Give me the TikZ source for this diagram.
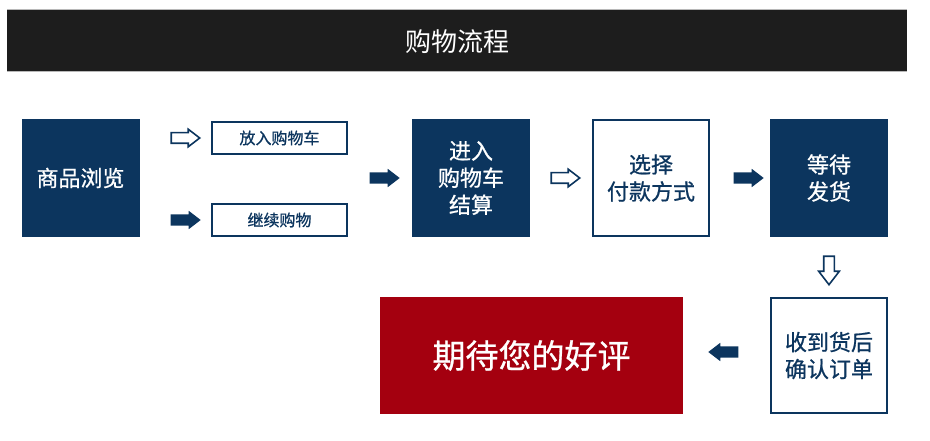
\documentclass[tikz,border=0pt]{standalone}
\usepackage{fontspec}
\setmainfont{Noto Sans CJK SC}
\newfontfamily\medfont[FakeBold=0.8]{Noto Sans CJK SC}
\usetikzlibrary{shapes.arrows}
\definecolor{navy}{HTML}{0C355E}
\definecolor{hdr}{HTML}{1D1D1D}
\definecolor{hdrline}{HTML}{B8B8B8}
\definecolor{wine}{HTML}{A4000F}
\begin{document}
\begin{tikzpicture}[x=1pt,y=-1pt,
  darkbox/.style={fill=navy, draw=none, text=white, inner sep=0pt, align=center,
    minimum width=118pt, minimum height=118pt, font=\medfont\fontsize{22}{27}\selectfont},
  linebox/.style={draw=navy, line width=1.8pt, fill=white, text=navy, inner sep=0pt, align=center,
    minimum width=116pt, minimum height=116pt, font=\medfont\fontsize{22}{27}\selectfont},
  smallbox/.style={draw=navy, line width=1.6pt, fill=white, text=navy, inner sep=0pt,
    minimum width=135.5pt, minimum height=32.5pt, font=\medfont\fontsize{16}{20}\selectfont},
  blockarrow/.style={shape=single arrow, inner sep=0pt, text height=5.5pt, text depth=5.5pt,
    minimum height=30pt, single arrow head extend=3.5pt, single arrow tip angle=75},
  solidarrow/.style={blockarrow, fill=navy, draw=none},
  hollowarrow/.style={blockarrow, draw=navy, line width=1.6pt, fill=white, minimum height=28.5pt,
    text height=4.5pt, text depth=4.5pt}]
\useasboundingbox (0,0) rectangle (930,441);
% header band
\fill[hdr] (7,9) rectangle (907,72);
\draw[hdrline, line width=1pt] (7,9.5) -- (907,9.5);
\draw[hdrline, line width=1pt] (7,71.5) -- (907,71.5);
\node[text=white, font=\fontsize{26}{30}\selectfont] (title) at (457,42) {购物流程};
% boxes
\node[darkbox] (browse) at (80.5,178) {商品浏览};
\node[smallbox] (cart) at (279.5,138) {放入购物车};
\node[smallbox] (cont) at (279.5,220) {继续购物};
\node[darkbox] (settle) at (471,178) {进入\\购物车\\结算};
\node[linebox] (pay) at (651,178) {选择\\付款方式};
\node[darkbox] (wait) at (829,178) {等待\\发货};
\node[linebox, minimum height=115pt] (confirm) at (829,355.5) {收到货后\\确认订单};
\node[fill=wine, text=white, inner sep=0pt, minimum width=303pt, minimum height=117pt,
  font=\medfont\fontsize{33}{38}\selectfont] (review) at (531.5,355.5) {期待您的好评};
% block arrows
\node[hollowarrow] (a1) at (182,138) {};
\node[solidarrow] (a2) at (182,220) {};
\node[solidarrow] (a3) at (381,178) {};
\node[hollowarrow] (a4) at (562,178) {};
\node[solidarrow] (a5) at (745,178) {};
\node[hollowarrow, shape border rotate=270, text width=9pt, text height=0pt, text depth=0pt,
  single arrow head extend=5pt] (a6) at (829,267) {};
\node[solidarrow, shape border rotate=180] (a7) at (727,352) {};
\end{tikzpicture}
\end{document}
